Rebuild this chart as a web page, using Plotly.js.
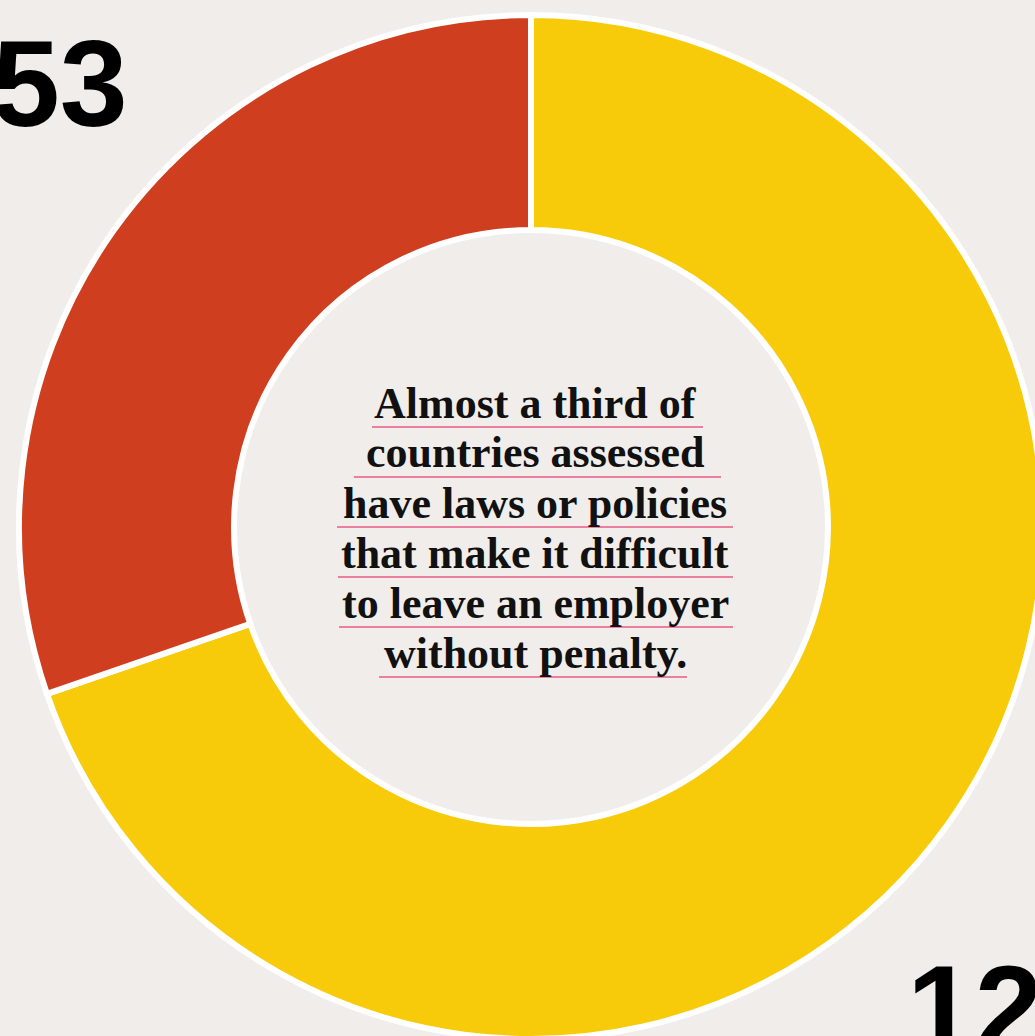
<!DOCTYPE html>
<html>
<head>
<meta charset="utf-8">
<script src="https://cdn.plot.ly/plotly-3.0.1.min.js"></script>
<style>
  html, body { margin: 0; padding: 0; background: #F0EDEA; overflow: hidden; }
  #chart { width: 1060px; height: 1060px; }
</style>
</head>
<body>
<div id="chart"></div>
<script>
// ---- data ----
const categories = ["Can leave without penalty", "Laws or policies make it difficult to leave"];
const countryCounts = [122, 53];
const sliceColors = ["#F7CB0A", "#D03E20"];
const calloutLines = [
  "Almost a third of",
  "countries assessed",
  "have laws or policies",
  "that make it difficult",
  "to leave an employer",
  "without penalty."
];

// ---- layout helpers (pixel -> paper) ----
const W = 1060, H = 1060;
const px = x => x / W;
const py = y => 1 - y / H;

const cx = 531, cy = 527, R = 512;

const pieTrace = {
  type: "pie",
  labels: categories,
  values: countryCounts,
  sort: false,
  direction: "clockwise",
  rotation: 0,
  hole: 0.58,
  textinfo: "none",
  hoverinfo: "label+value",
  marker: { colors: sliceColors, line: { color: "#FFFFFF", width: 6 } },
  domain: { x: [px(cx - R), px(cx + R)], y: [py(cy + R), py(cy - R)] },
  showlegend: false
};

const annotations = [];
// big numbers
annotations.push({
  xref: "paper", yref: "paper", x: px(130), y: py(84),
  xanchor: "right", yanchor: "middle", showarrow: false,
  text: String(countryCounts[1]),
  font: { family: "Liberation Sans, Arial, sans-serif", size: 122, color: "#000000", weight: 700 }
});
annotations.push({
  xref: "paper", yref: "paper", x: px(905), y: py(1009),
  xanchor: "left", yanchor: "middle", showarrow: false,
  text: String(countryCounts[0]),
  font: { family: "Liberation Sans, Arial, sans-serif", size: 122, color: "#000000", weight: 700 }
});

// callout text, one line each
const textCx = 535, firstMid = 403, lineStep = 50;
calloutLines.forEach((t, i) => {
  annotations.push({
    xref: "paper", yref: "paper", x: px(textCx), y: py(firstMid + i * lineStep),
    xanchor: "center", yanchor: "middle", showarrow: false,
    text: "<b>" + t + "</b>",
    font: { family: "Liberation Serif, serif", size: 44, color: "#111111" }
  });
});

// pink underline decorations (style, in pixels)
const underlineSpans = [[372, 703], [354, 721], [337, 733], [338, 733], [339, 733], [379, 687]];
const shapes = underlineSpans.map((s, i) => ({
  type: "line", xref: "paper", yref: "paper",
  x0: px(s[0]), x1: px(s[1]),
  y0: py(427 + i * lineStep), y1: py(427 + i * lineStep),
  line: { color: "#EC7FA0", width: 2 }
}));

const layout = {
  width: W, height: H,
  margin: { l: 0, r: 0, t: 0, b: 0, pad: 0 },
  paper_bgcolor: "#F0EDEA",
  plot_bgcolor: "#F0EDEA",
  showlegend: false,
  annotations: annotations,
  shapes: shapes
};

Plotly.newPlot("chart", [pieTrace], layout, { displayModeBar: false, staticPlot: true });
</script>
</body>
</html>
